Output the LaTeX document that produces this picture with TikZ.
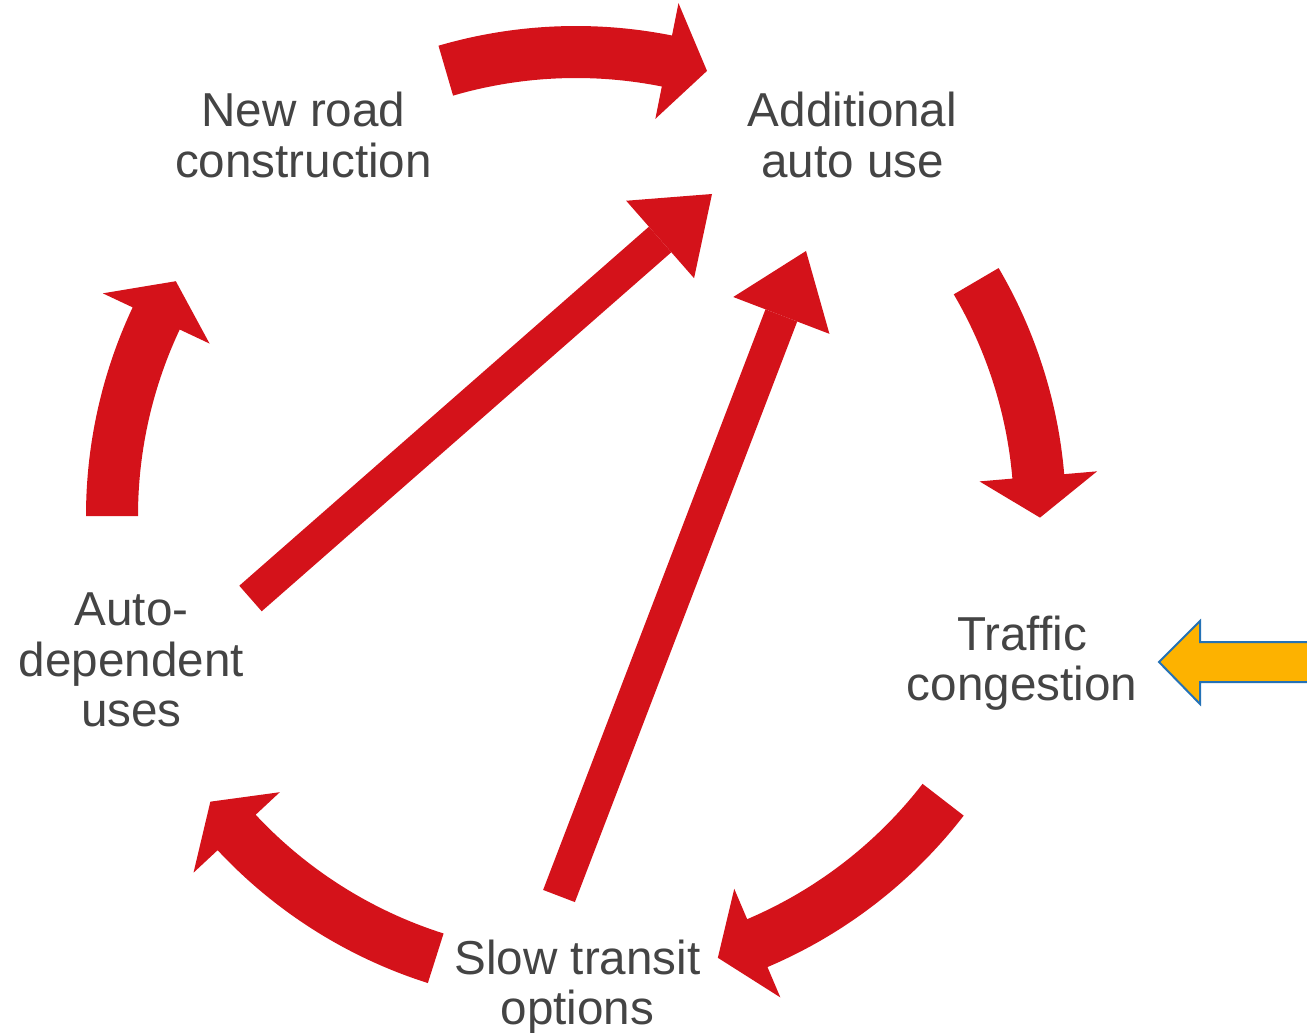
\documentclass[tikz,border=0pt]{standalone}
\usepackage{fontspec}
\setmainfont{Liberation Sans}
\usepackage{tikz}
\usetikzlibrary{arrows.meta, calc, positioning}

\definecolor{ringred}{RGB}{212,18,26}
\definecolor{labelgray}{RGB}{68,68,68}
\definecolor{inyellow}{RGB}{253,178,0}
\definecolor{inblue}{RGB}{36,114,182}

\begin{document}
\begin{tikzpicture}[x=0.02cm, y=0.02cm,
    lbl/.style={align=center, inner sep=0, text=labelgray,
      font=\fontsize{27.1}{28.6}\selectfont},
    block/.style={ringred, line width=0.68cm,
      -{Triangle[length=1.38cm, width=2.06cm, line width=0pt 0 0]}}]
    \useasboundingbox (0,0) rectangle (1307,-1033);

    \def\R{464}
    \def\Ro{490}
    \def\Ri{438}
    \def\Ho{523}
    \def\Hi{405}
    \coordinate (c) at (576,-516);

    % Labels
    \node[lbl] (road) at (303.5,-135) {New road\\construction};
    \node[lbl] (autouse) at (852.5,-135) {Additional\\auto use};
    \node[lbl] (congestion) at (1022,-663) {Traffic\\congestion};
    \node[lbl] (transit) at (577.5,-987) {Slow transit\\options};
    \node[lbl] (depend) at (131.5,-660) {Auto-\\dependent\\uses};

    % Ring (tail / head base / tip angles)
    \foreach \t/\b/\p in {106.3/78.7/73.6, 30.4/4.9/-0.2, -37.7/-67/-72.2,
                          -107.6/-137/-142, 180/154.8/149.6}
      \fill[ringred] ($(c)+(\t:\Ro)$) arc[start angle=\t, end angle=\b, radius=\Ro]
        -- ($(c)+(\b:\Ho)$) -- ($(c)+(\p:\R)$) -- ($(c)+(\b:\Hi)$)
        -- ($(c)+(\b:\Ri)$) arc[start angle=\b, end angle=\t, radius=\Ri] -- cycle;

    % Shortcuts
    \coordinate (depend-out) at (250.5,-598.5);
    \coordinate (autouse-in) at (712,-194);
    \coordinate (transit-out) at (559,-896);
    \coordinate (autouse-in2) at (806,-251);
    \draw[block] (depend-out) -- (autouse-in);
    \draw[block] (transit-out) -- (autouse-in2);

    % Outside input
    \coordinate (feed) at (1320,-662);
    \filldraw[fill=inyellow, draw=inblue, line width=0.04cm]
      (feed) ++(0,20) -- (1200,-642) -- (1200,-621) -- (1159,-662)
      -- (1200,-704) -- (1200,-682) -- (1320,-682) -- cycle;
\end{tikzpicture}
\end{document}
